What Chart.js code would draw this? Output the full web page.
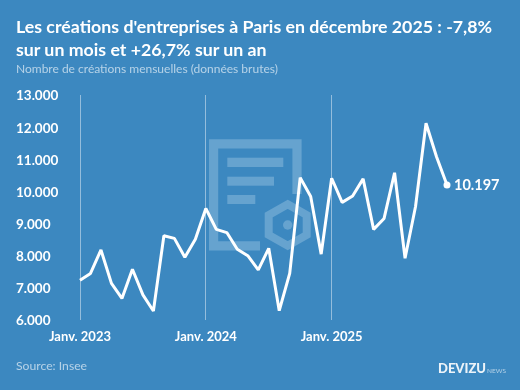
<!DOCTYPE html>
<html lang="fr">
<head>
<meta charset="utf-8">
<title>Créations d'entreprises à Paris</title>
<script src="https://cdn.jsdelivr.net/npm/chart.js@4/dist/chart.umd.min.js"></script>
<style>
  html, body { margin: 0; padding: 0; }
  body { width: 520px; height: 390px; background: #3c88c0; overflow: hidden; position: relative; font-family: Lato, sans-serif; color: #fff; }
  #title { position: absolute; left: 16px; top: 15px; font-size: 17.76px; line-height: 22.5px; font-weight: 700; white-space: nowrap; }
  #subtitle { position: absolute; left: 16px; top: 61px; font-size: 12px; color: rgba(255,255,255,.62); white-space: nowrap; }
  #source { position: absolute; left: 16px; top: 358px; font-size: 12.2px; color: rgba(255,255,255,.62); }
  #logo { position: absolute; left: 438px; top: 360px; font-size: 13px; font-weight: 900; white-space: nowrap; color: rgba(255,255,255,.9); }
  #logo span { font-size: 6.5px; font-weight: 400; margin-left: 1px; color: rgba(255,255,255,.6); }
  #mark { position: absolute; left: 0; top: 0; }
  #chart { position: absolute; left: 0; top: 0; }
</style>
</head>
<body>
<svg id="mark" width="520" height="390" fill="none" stroke="#66a3cf">
  <path d="M260 245.800 H213.600 V143.800 H297 V194" stroke-width="9.200"/>
  <g stroke="none" fill="#66a3cf">
    <rect x="227.300" y="157.700" width="56" height="9.300"/>
    <rect x="227.300" y="176.700" width="46.700" height="9"/>
    <rect x="227.300" y="195" width="28" height="9"/>
    <circle cx="287.700" cy="225" r="4.700"/>
  </g>
  <path d="M287.700 204.300 L306.700 215 V235 L287.700 245.700 L268.700 235 V215 Z" stroke-width="8"/>
</svg>
<canvas id="chart" width="520" height="390"></canvas>
<div id="title">Les créations d'entreprises à Paris en décembre 2025 : -7,8%<br>sur un mois et +26,7% sur un an</div>
<div id="subtitle">Nombre de créations mensuelles (données brutes)</div>
<div id="source">Source: Insee</div>
<div id="logo">DEVIZU<span>NEWS</span></div>
<script>
// Mois de janvier 2023 à décembre 2025
const months = [
  'Janv. 2023', 'Févr. 2023', 'Mars 2023', 'Avr. 2023', 'Mai 2023', 'Juin 2023',
  'Juil. 2023', 'Août 2023', 'Sept. 2023', 'Oct. 2023', 'Nov. 2023', 'Déc. 2023',
  'Janv. 2024', 'Févr. 2024', 'Mars 2024', 'Avr. 2024', 'Mai 2024', 'Juin 2024',
  'Juil. 2024', 'Août 2024', 'Sept. 2024', 'Oct. 2024', 'Nov. 2024', 'Déc. 2024',
  'Janv. 2025', 'Févr. 2025', 'Mars 2025', 'Avr. 2025', 'Mai 2025', 'Juin 2025',
  'Juil. 2025', 'Août 2025', 'Sept. 2025', 'Oct. 2025', 'Nov. 2025', 'Déc. 2025'
];

// Valeurs
const creations = [
  7240, 7450, 8180, 7140, 6670, 7580, 6780, 6280, 8620, 8540, 7950, 8510,
  9470, 8820, 8720, 8200, 8000, 7560, 8230, 6290, 7450, 10430, 9840, 8050,
  10410, 9660, 9860, 10390, 8820, 9160, 10580, 7920, 9530, 12120, 11080, 10197
];

const yTicks = [6000, 7000, 8000, 9000, 10000, 11000, 12000, 13000];

function formatNumber(v) {
  return String(v).replace(/\B(?=(\d{3})+$)/g, '.');
}

// Étiquette de la dernière valeur
const lastLabel = {
  id: 'lastLabel',
  // Lato sort un peu trop haut avec textBaseline middle
  beforeDraw(chart) {
    chart.scales.y.getLabelItems(chart.chartArea).forEach(item => { item.textOffset += 1; });
  },
  afterDatasetsDraw(chart) {
    const points = chart.getDatasetMeta(0).data;
    const p = points[points.length - 1];
    const c = chart.ctx;
    c.save();
    c.fillStyle = '#fff';
    c.font = 'bold 14.5px Lato';
    c.textBaseline = 'middle';
    c.fillText(formatNumber(creations[creations.length - 1]), p.x + 7, p.y + 0.5);
    c.restore();
  }
};

new Chart(document.getElementById('chart'), {
  type: 'line',
  data: {
    labels: months,
    datasets: [{
      data: creations,
      borderColor: '#fff',
      borderWidth: 3,
      tension: 0,
      borderJoinStyle: 'bevel',
      pointRadius: ctx => ctx.dataIndex === creations.length - 1 ? 3.5 : 0,
      pointBackgroundColor: '#fff',
      pointBorderWidth: 0
    }]
  },
  options: {
    responsive: false,
    animation: false,
    layout: { padding: { left: 16, right: 73, top: 95, bottom: 0 } },
    plugins: { legend: { display: false }, tooltip: { enabled: false } },
    scales: {
      x: {
        afterFit: scale => { scale.height = 70; },
        border: { display: false },
        grid: {
          drawTicks: false,
          lineWidth: 1,
          color: ctx => (ctx.tick && months[ctx.tick.value].startsWith('Janv.')) ? 'rgba(255,255,255,.45)' : 'transparent'
        },
        ticks: {
          autoSkip: false,
          maxRotation: 0,
          padding: 9,
          color: '#fff',
          font: { family: 'Lato', weight: 'bold', size: 13 },
          callback(value) {
            const label = months[value];
            return label.startsWith('Janv.') ? label : '';
          }
        }
      },
      y: {
        min: 6000,
        max: 13000,
        afterFit: scale => { scale.width = 64; },
        afterBuildTicks: scale => { scale.ticks = yTicks.map(v => ({ value: v })); },
        border: { display: false },
        grid: { display: false },
        ticks: {
          crossAlign: 'far',
          padding: 0,
          color: '#fff',
          font: { family: 'Lato', weight: 'bold', size: 13.5 },
          callback: formatNumber
        }
      }
    }
  },
  plugins: [lastLabel]
});
</script>
</body>
</html>
